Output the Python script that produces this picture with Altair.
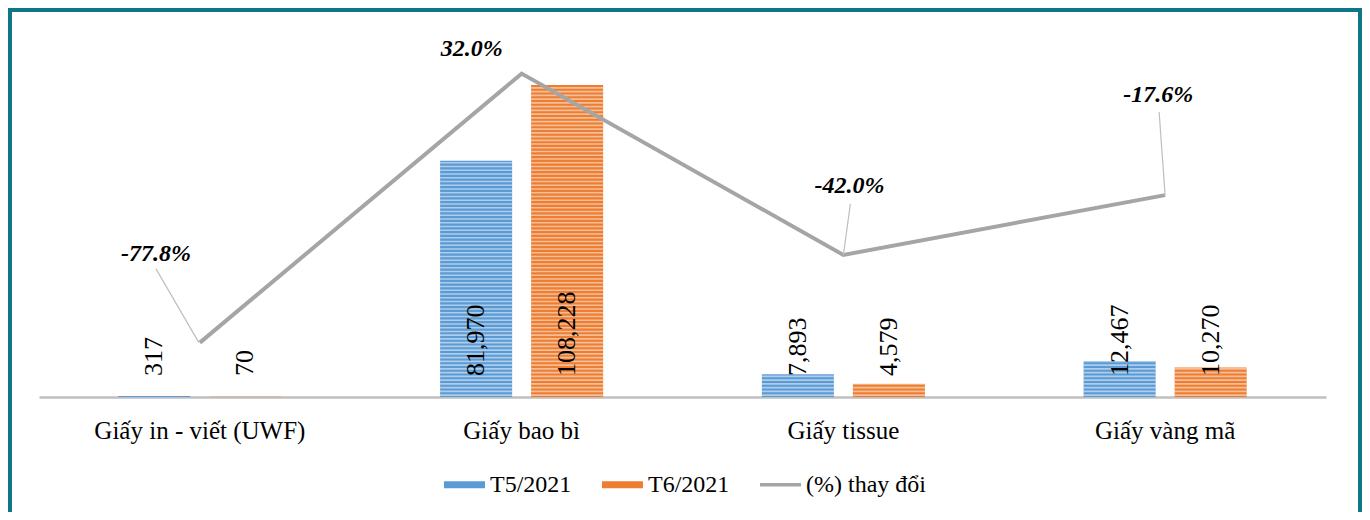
import altair as alt
import pandas as pd

# ---------------- data ----------------
categories = ["Giấy in - viết (UWF)", "Giấy bao bì", "Giấy tissue", "Giấy vàng mã"]
t5_values = [317, 81970, 7893, 12467]
t6_values = [70, 108228, 4579, 10270]
pct_change = [-77.8, 32.0, -42.0, -17.6]
series_names = ["T5/2021", "T6/2021", "(%) thay đổi"]
series_colors = ["#5B9BD5", "#ED7D31", "#A5A5A5"]

bars_df = pd.DataFrame({
    "cat": categories * 2,
    "series": [series_names[0]] * 4 + [series_names[1]] * 4,
    "value": t5_values + t6_values,
})
bars_df["label"] = bars_df["value"].map(lambda v: f"{v:,}")

pct_df = pd.DataFrame({"cat": categories, "pct": pct_change, "series": series_names[2]})
pct_df["label"] = pct_df["pct"].map(lambda v: f"{v:.1f}%")

# ---------------- style ----------------
FONT = "Liberation Serif"
TEAL = "#0E7686"
Y1_DOMAIN = [0, 119000]
Y2_DOMAIN = [-100, 40]

X = alt.X(
    "cat:N", sort=categories,
    scale=alt.Scale(paddingInner=0, paddingOuter=0),
    axis=alt.Axis(title=None, labelAngle=0, labelFont=FONT, labelFontSize=25,
                  labelColor="black", domainColor="#BFBFBF", domainWidth=2.5,
                  ticks=False, labelPadding=21, grid=False, labelLimit=0),
)
XOFF = alt.XOffset("series:N", sort=series_names[:2],
                   scale=alt.Scale(paddingInner=0.209, paddingOuter=0.872))
COLOR = alt.Color(
    "series:N",
    scale=alt.Scale(domain=series_names, range=series_colors),
    legend=alt.Legend(
        title=None, orient="none", legendX=405, legendY=410, direction="horizontal",
        labelFont=FONT, labelFontSize=24, labelColor="black", symbolSize=1681,
        columnPadding=30, labelOffset=5, padding=0, labelLimit=0,
        symbolType=alt.ExprRef(expr="datum.value === '(%) thay đổi' ? 'M-1,-0.09H1V0.09H-1Z' : 'M-1,-0.17H1V0.17H-1Z'"),
        symbolFillColor=alt.ExprRef(expr="scale('color', datum.value)"),
        symbolStrokeWidth=0,
        symbolOpacity=1,
    ),
)


def y1(field):
    return alt.Y(field, scale=alt.Scale(domain=Y1_DOMAIN, nice=False, zero=True), axis=None)


def y2(field):
    return alt.Y(field, scale=alt.Scale(domain=Y2_DOMAIN, nice=False, zero=False), axis=None)


bars = alt.Chart(bars_df).mark_bar().encode(x=X, xOffset=XOFF, y=y1("value:Q"), color=COLOR)

stripes = (
    alt.Chart(bars_df)
    .transform_calculate(stripe="sequence(650, datum.value, 1300)")
    .transform_flatten(["stripe"])
    .mark_tick(orient="horizontal", size=72, thickness=1.6, color="white", opacity=0.5)
    .encode(x=X, xOffset=XOFF, y=y1("stripe:Q"))
)

bar_labels = (
    alt.Chart(bars_df)
    .transform_calculate(base="0")
    .mark_text(angle=270, align="left", baseline="middle", dx=21, font=FONT,
               fontSize=26, color="black")
    .encode(x=X, xOffset=XOFF, y=y1("base:Q"), text="label:N")
)

line = alt.Chart(pct_df).mark_line(strokeWidth=4).encode(x=X, y=y2("pct:Q"), color=COLOR)

label_offsets = [(-44, -89), (-50, -25), (6, -69), (-7, -100)]
leader_offsets = [((-44, -74), (-1, 0)), None, ((7, -51), (0, 0)), ((-6, -83), (0, 0))]

pct_layers = []
for c, (dx, dy), lead in zip(categories, label_offsets, leader_offsets):
    base = alt.Chart(pct_df).transform_filter(alt.datum.cat == c)
    if lead is not None:
        (sx, sy), (ex, ey) = lead
        pct_layers.append(
            base.mark_rule(color="#BFBFBF", strokeWidth=1.2, xOffset=sx, yOffset=sy,
                           x2Offset=ex, y2Offset=ey)
            .encode(x=X, x2=alt.X2("cat:N"), y=y2("pct:Q"), y2=alt.Y2("pct:Q"))
        )
    pct_layers.append(
        base.mark_text(dx=dx, dy=dy, font=FONT, fontSize=24, fontStyle="italic",
                       fontWeight="bold", color="black", align="center", baseline="middle")
        .encode(x=X, y=y2("pct:Q"), text="label:N")
    )

border_data = alt.Data(values=[{"k": 0}])
border_left = alt.Chart(border_data).mark_rule(color=TEAL, strokeWidth=4).encode(
    x=alt.value(-29), y=alt.value(-46), y2=alt.value(458))
border_right = alt.Chart(border_data).mark_rule(color=TEAL, strokeWidth=4).encode(
    x=alt.value(1321), y=alt.value(-46), y2=alt.value(458))
border_top = alt.Chart(border_data).mark_rule(color=TEAL, strokeWidth=4).encode(
    x=alt.value(-31), x2=alt.value(1323), y=alt.value(-44))

chart = (
    alt.layer(bars, stripes, bar_labels, line, *pct_layers, border_left, border_right, border_top)
    .resolve_scale(y="independent")
    .properties(
        width=1287, height=343,
        padding={"left": 31, "top": 46, "right": 36, "bottom": 115},
        autosize=alt.AutoSizeParams(type="none"),
    )
    .configure_view(stroke=None)
    .configure_axis(grid=False)
)

chart.save("out.html", embed_options={"renderer": "svg", "actions": False})
